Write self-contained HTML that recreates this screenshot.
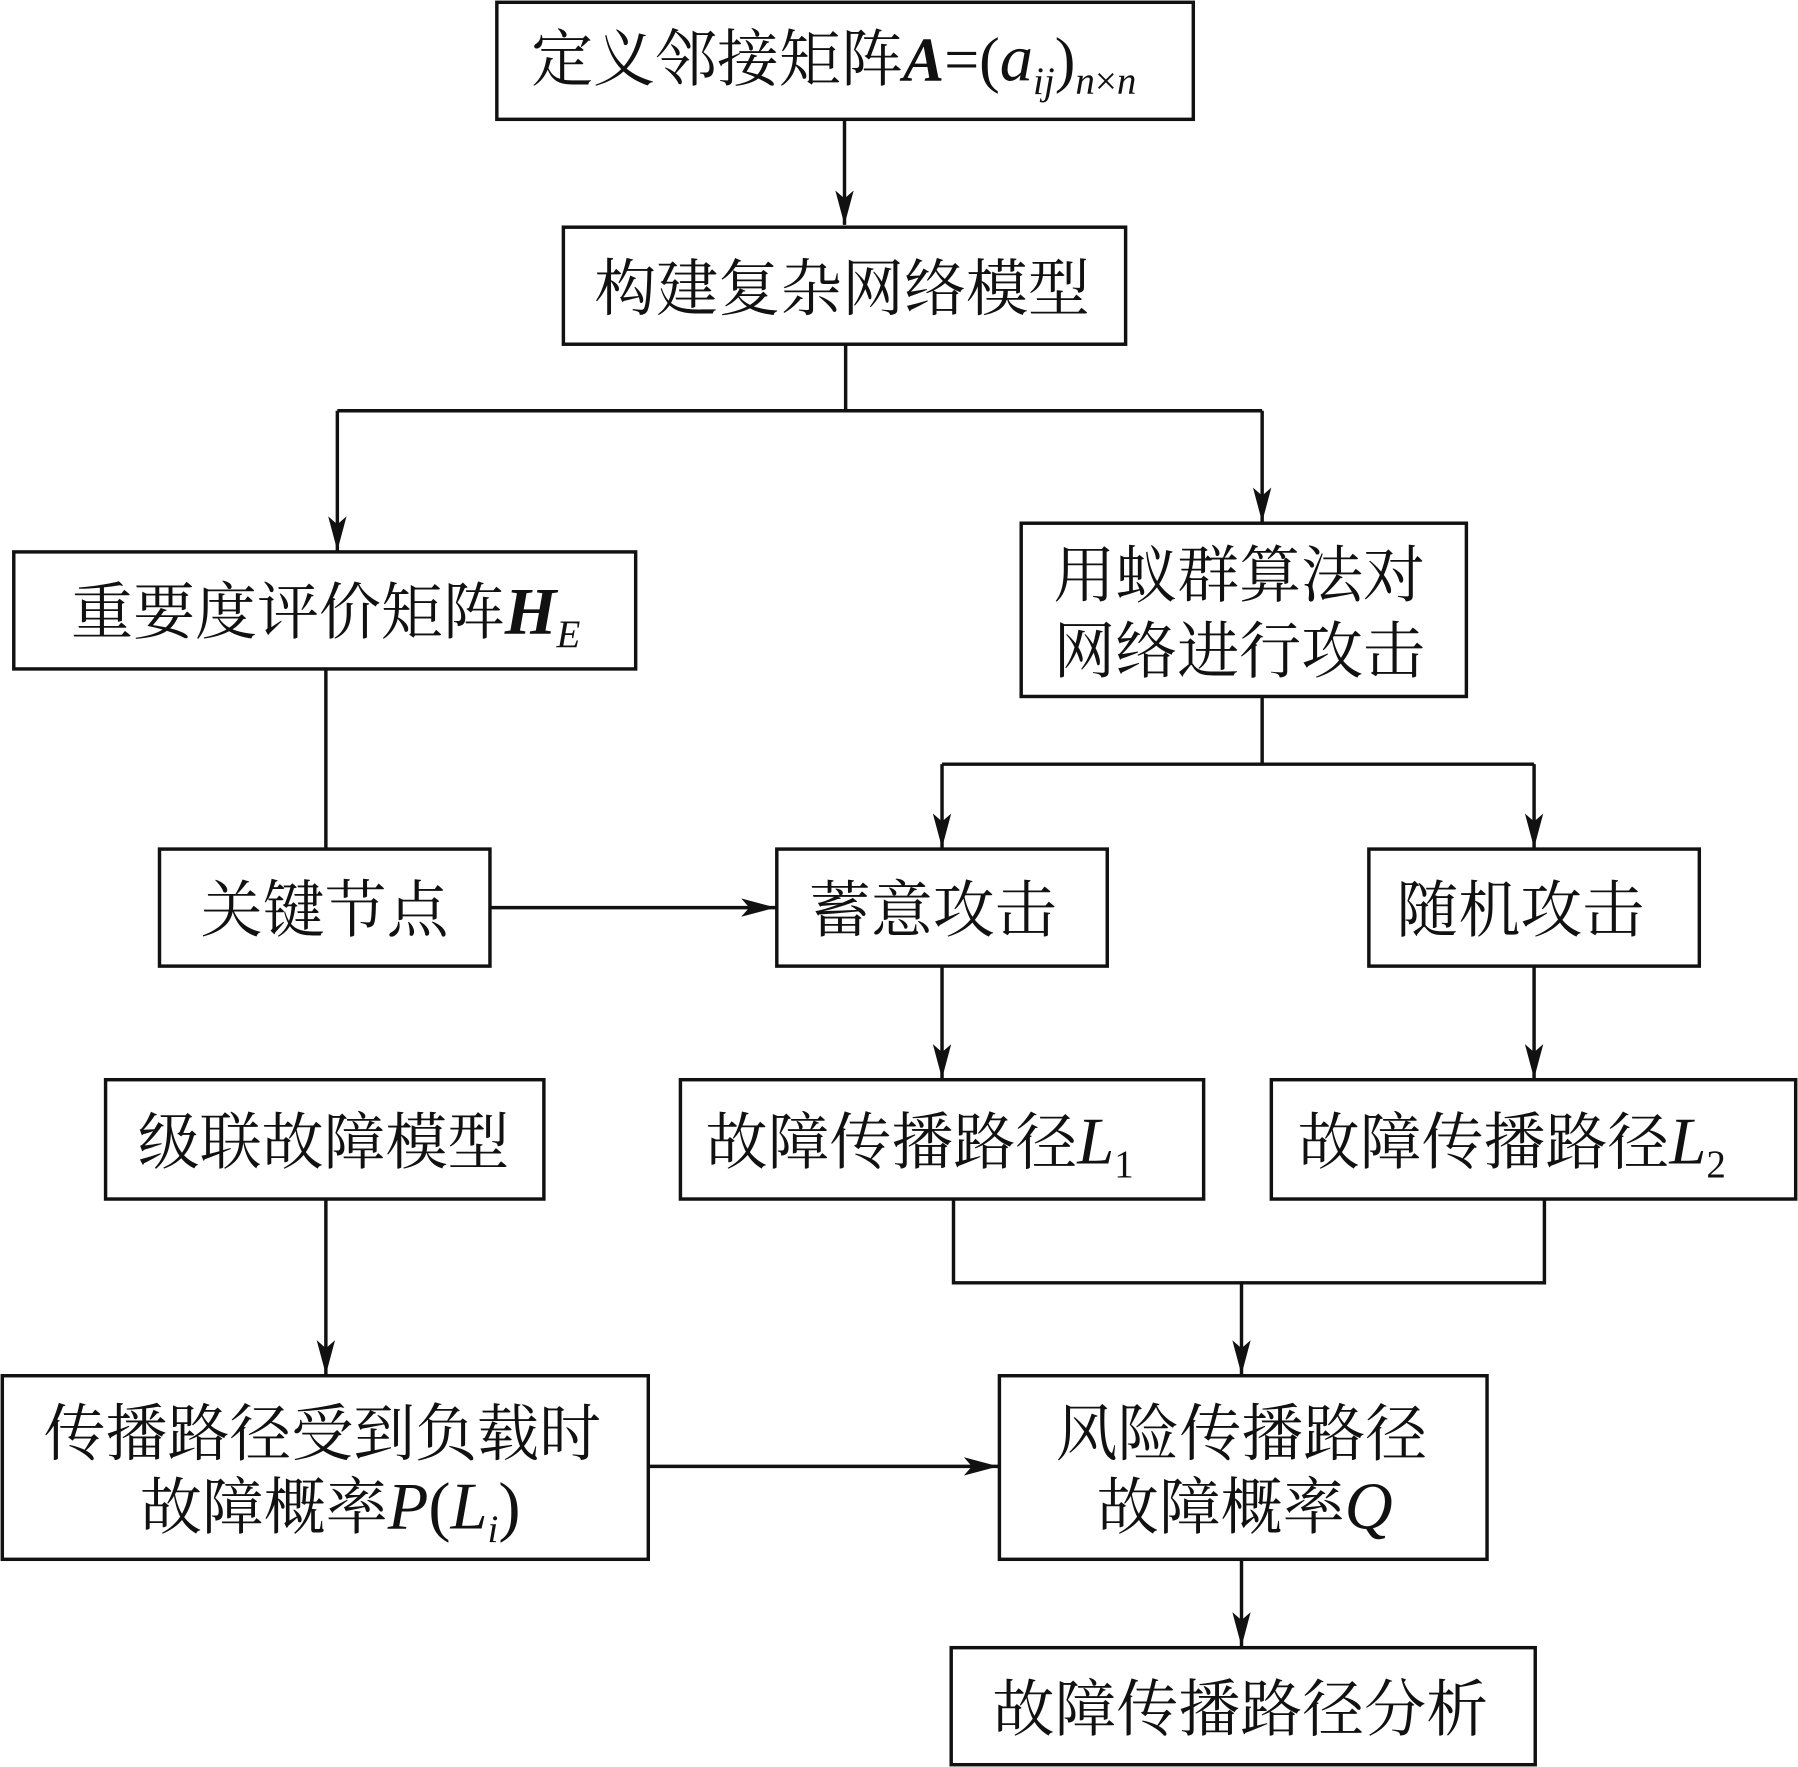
<!DOCTYPE html>
<html><head><meta charset="utf-8"><style>
html,body{margin:0;padding:0;background:#fff}
svg{display:block}
text{font-family:"Liberation Serif","Noto Serif CJK SC",serif;font-size:54px;fill:#111}
.i{font-style:italic}
</style></head><body>
<svg width="1798" height="1767" viewBox="0 0 1567 1540" xmlns="http://www.w3.org/2000/svg">
<defs><marker id="a" viewBox="0 0 30 16" refX="30" refY="8" markerWidth="30" markerHeight="16" markerUnits="userSpaceOnUse" orient="auto"><path d="M0,0 L30,8 L0,16 L7,8 Z" fill="#111"/></marker></defs>
<g fill="none" stroke="#111" stroke-width="3">
<rect x="433" y="2" width="607" height="102"/>
<rect x="491" y="198" width="490" height="102"/>
<rect x="12" y="481" width="542" height="102"/>
<rect x="890" y="456" width="388" height="151"/>
<rect x="139" y="740" width="288" height="102"/>
<rect x="677" y="740" width="288" height="102"/>
<rect x="1193" y="740" width="288" height="102"/>
<rect x="92" y="941" width="382" height="104"/>
<rect x="593" y="941" width="456" height="104"/>
<rect x="1108" y="941" width="457" height="104"/>
<rect x="2" y="1199" width="563" height="160"/>
<rect x="871" y="1199" width="425" height="160"/>
<rect x="829" y="1436" width="509" height="102"/>
<line x1="736" y1="104" x2="736" y2="196" marker-end="url(#a)"/>
<polyline points="737,300 737,358"/>
<line x1="294" y1="358" x2="1100" y2="358"/>
<line x1="294" y1="358" x2="294" y2="480" marker-end="url(#a)"/>
<line x1="1100" y1="358" x2="1100" y2="455" marker-end="url(#a)"/>
<line x1="284" y1="583" x2="284" y2="740"/>
<line x1="427" y1="791" x2="676" y2="791" marker-end="url(#a)"/>
<line x1="1100" y1="607" x2="1100" y2="666"/>
<line x1="821" y1="666" x2="1337" y2="666"/>
<line x1="821" y1="666" x2="821" y2="739" marker-end="url(#a)"/>
<line x1="1337" y1="666" x2="1337" y2="739" marker-end="url(#a)"/>
<line x1="821" y1="842" x2="821" y2="940" marker-end="url(#a)"/>
<line x1="1337" y1="842" x2="1337" y2="940" marker-end="url(#a)"/>
<polyline points="831,1045 831,1118 1346,1118 1346,1045"/>
<line x1="1082" y1="1118" x2="1082" y2="1198" marker-end="url(#a)"/>
<line x1="284" y1="1045" x2="284" y2="1198" marker-end="url(#a)"/>
<line x1="565" y1="1278" x2="870" y2="1278" marker-end="url(#a)"/>
<line x1="1082" y1="1359" x2="1082" y2="1435" marker-end="url(#a)"/>
</g>
<text x="463" y="70">定义邻接矩阵<tspan class="i" font-weight="bold">A</tspan>=(<tspan class="i" font-size="58">a</tspan><tspan class="i" font-size="34" dy="12">ij</tspan><tspan dy="-12">)</tspan><tspan class="i" font-size="34" dy="12">n</tspan><tspan font-size="34">×</tspan><tspan class="i" font-size="34">n</tspan></text>
<text x="518" y="270">构建复杂网络模型</text>
<text x="62" y="552">重要度评价矩阵<tspan class="i" font-weight="bold" font-size="58">H</tspan><tspan class="i" font-size="34" dy="12">E</tspan></text>
<text x="918" y="520">用蚁群算法对</text>
<text x="918" y="586">网络进行攻击</text>
<text x="175" y="812">关键节点</text>
<text x="705" y="812">蓄意攻击</text>
<text x="1217" y="812">随机攻击</text>
<text x="120" y="1014">级联故障模型</text>
<text x="615" y="1014">故障传播路径<tspan class="i" font-size="58">L</tspan><tspan font-size="34" dy="12">1</tspan></text>
<text x="1131" y="1014">故障传播路径<tspan class="i" font-size="58">L</tspan><tspan font-size="34" dy="12">2</tspan></text>
<text x="38" y="1268">传播路径受到负载时</text>
<text x="122" y="1332">故障概率<tspan class="i" font-size="58">P</tspan><tspan font-size="58">(</tspan><tspan class="i" font-size="58">L</tspan><tspan class="i" font-size="34" dy="12">i</tspan><tspan dy="-12" font-size="58">)</tspan></text>
<text x="920" y="1268">风险传播路径</text>
<text x="956" y="1332">故障概率<tspan class="i" font-size="58">Q</tspan></text>
<text x="865" y="1508">故障传播路径分析</text>
</svg>
</body></html>
